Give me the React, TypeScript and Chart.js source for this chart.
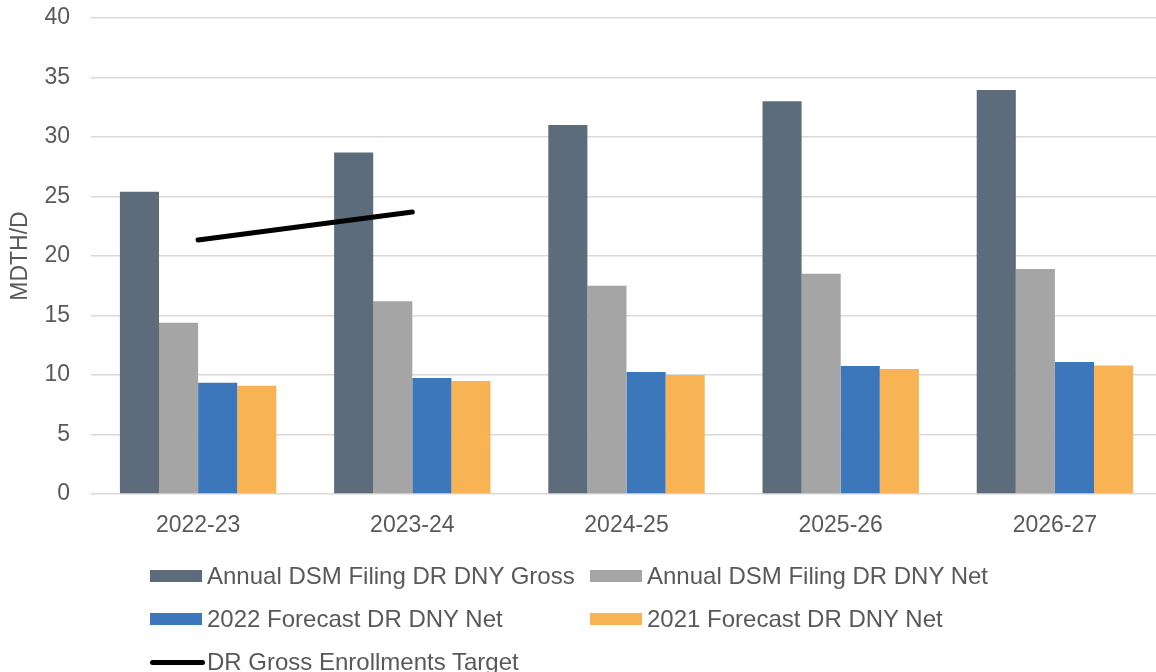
import React, { useEffect, useRef } from "react";
import { Chart, registerables } from "chart.js";

Chart.register(...registerables);

const categories = ["2022-23", "2023-24", "2024-25", "2025-26", "2026-27"];
const grossFiling = [25.4, 28.7, 31.0, 33.0, 33.95];
const netFiling = [14.4, 16.2, 17.5, 18.5, 18.9];
const forecast2022 = [9.35, 9.75, 10.25, 10.75, 11.1];
const forecast2021 = [9.1, 9.5, 10.0, 10.5, 10.8];
const grossTarget = [21.35, 23.7, null, null, null];
const yTicks = [0, 5, 10, 15, 20, 25, 30, 35, 40];

const seriesNames = [
  "Annual DSM Filing DR DNY Gross",
  "Annual DSM Filing DR DNY Net",
  "2022 Forecast DR DNY Net",
  "2021 Forecast DR DNY Net",
  "DR Gross Enrollments Target",
];
const colors = ["#5c6c7b", "#a5a5a5", "#3c77bc", "#f7b354", "#000000"];

const FONT = "'Liberation Sans', Arial, sans-serif";
const TEXT = "#595959";

export default function App() {
  const ref = useRef<HTMLCanvasElement | null>(null);

  useEffect(() => {
    if (!ref.current) return;
    const chart = new Chart(ref.current, {
      type: "bar",
      data: {
        labels: categories,
        datasets: [
          {
            type: "line",
            label: seriesNames[4],
            data: grossTarget,
            borderColor: colors[4],
            borderWidth: 5,
            borderCapStyle: "round",
            pointRadius: 0,
            order: 0,
            spanGaps: false,
          } as any,
          { label: seriesNames[0], data: grossFiling, backgroundColor: colors[0], order: 1 },
          { label: seriesNames[1], data: netFiling, backgroundColor: colors[1], order: 1 },
          { label: seriesNames[2], data: forecast2022, backgroundColor: colors[2], order: 1 },
          { label: seriesNames[3], data: forecast2021, backgroundColor: colors[3], order: 1 },
        ],
      },
      options: {
        animation: false,
        responsive: false,
        maintainAspectRatio: false,
        datasets: {
          bar: { categoryPercentage: 0.73, barPercentage: 1.0 },
        } as any,
        layout: { padding: { top: 18, right: 8, left: 0, bottom: 0 } },
        plugins: { legend: { display: false }, tooltip: { enabled: false } },
        scales: {
          x: {
            grid: { display: false, drawTicks: false },
            border: { display: false },
            ticks: { color: TEXT, font: { family: FONT, size: 23 }, padding: 18, maxRotation: 0 },
            afterFit: (s: any) => {
              s.height = 178;
              s.paddingLeft = 0;
              s.paddingRight = 0;
            },
          },
          y: {
            min: 0,
            max: 40,
            afterBuildTicks: (s: any) => {
              s.ticks = yTicks.map((v) => ({ value: v }));
            },
            grid: { color: "#d9d9d9", lineWidth: 1.5, drawTicks: false },
            border: { display: false },
            ticks: { color: TEXT, font: { family: FONT, size: 23 }, padding: 21 },
            title: {
              display: true,
              text: "MDTH/D",
              color: TEXT,
              font: { family: FONT, size: 23 },
              padding: { top: 7, bottom: 0 },
            },
            afterFit: (s: any) => {
              s.width = 91;
              s.paddingTop = 0;
              s.paddingBottom = 0;
            },
          },
        },
      },
    });
    return () => chart.destroy();
  }, []);

  const legendItem = (i: number, x: number, y: number) => (
    <div key={i} style={{ position: "absolute", left: x, top: y, height: 0 }}>
      {i === 4 ? (
        <div
          style={{
            position: "absolute",
            left: 0,
            top: -2.5,
            width: 55,
            height: 5,
            borderRadius: 3,
            background: colors[i],
          }}
        />
      ) : (
        <div
          style={{
            position: "absolute",
            left: 0,
            top: -6,
            width: 52,
            height: 12,
            background: colors[i],
          }}
        />
      )}
      <div
        style={{
          position: "absolute",
          left: 57,
          top: -14,
          lineHeight: "28px",
          whiteSpace: "nowrap",
          fontFamily: FONT,
          fontSize: 24,
          color: TEXT,
        }}
      >
        {seriesNames[i]}
      </div>
    </div>
  );

  return (
    <div
      style={{
        position: "fixed",
        left: 0,
        top: 0,
        width: 1156,
        height: 672,
        overflow: "hidden",
        background: "#fff",
      }}
    >
      <canvas
        ref={ref}
        width={1170}
        height={672}
        style={{ position: "absolute", left: 0, top: 0, width: 1170, height: 672 }}
      />
      {legendItem(0, 150, 576)}
      {legendItem(1, 590, 576)}
      {legendItem(2, 150, 619)}
      {legendItem(3, 590, 619)}
      {legendItem(4, 150, 662)}
    </div>
  );
}
